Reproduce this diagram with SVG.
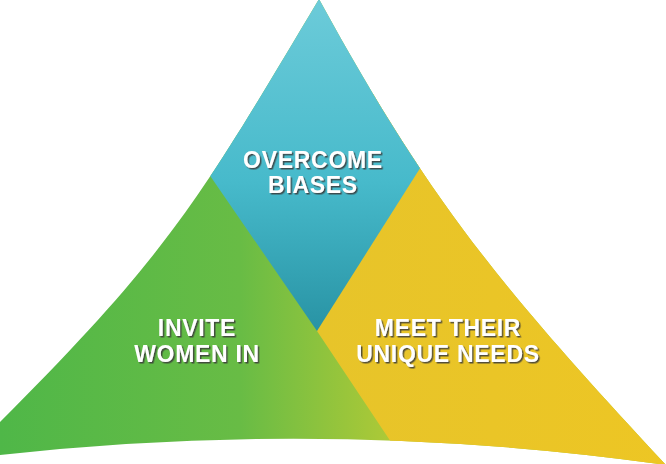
<svg xmlns="http://www.w3.org/2000/svg" width="666" height="464" viewBox="0 0 666 464">
<defs>
<style>
.lbl{font-family:"Liberation Sans",Arial,sans-serif;font-weight:bold;font-size:23px;letter-spacing:0.7px;fill:#ffffff;text-anchor:middle;filter:url(#sh)}
</style>
<filter id="sh" x="-10%" y="-30%" width="120%" height="160%">
<feDropShadow dx="1.5" dy="1.5" stdDeviation="0.6" flood-color="#3a3a3a" flood-opacity="0.85"/>
</filter>
<clipPath id="outer">
<path d="M319,-1 C199,200 170,252 0,422 L0,455 Q333,418 666,465 C498.6,285 429,200 319,-1 Z"/>
</clipPath>
<linearGradient id="gG" x1="0" y1="0" x2="400" y2="0" gradientUnits="userSpaceOnUse">
<stop offset="0" stop-color="#4fb748"/>
<stop offset="0.6" stop-color="#68bc45"/>
<stop offset="1" stop-color="#b2ca36"/>
</linearGradient>
<linearGradient id="gY" x1="320" y1="0" x2="666" y2="0" gradientUnits="userSpaceOnUse">
<stop offset="0" stop-color="#e7c42a"/>
<stop offset="1" stop-color="#edc624"/>
</linearGradient>
<linearGradient id="gB" x1="0" y1="0" x2="0" y2="331" gradientUnits="userSpaceOnUse">
<stop offset="0" stop-color="#6ccbd9"/>
<stop offset="0.55" stop-color="#47bacb"/>
<stop offset="1" stop-color="#2893a4"/>
</linearGradient>
</defs>
<rect width="666" height="464" fill="#ffffff"/>
<g id="shape" clip-path="url(#outer)">
<g id="invite">
<rect x="-10" y="-10" width="690" height="490" fill="url(#gG)"/>
</g>
<g id="meet">
<polygon points="317,331 393,445 400,480 700,480 700,-20 400,-20" fill="url(#gY)"/>
</g>
<g id="overcome">
<polygon points="317,331 158,100 158,-10 480,-10 468,92.5" fill="url(#gB)"/>
</g>
</g>
<g id="labels">
<text class="lbl" x="313" y="168">OVERCOME</text>
<text class="lbl" x="313" y="193">BIASES</text>
<text class="lbl" x="197" y="336">INVITE</text>
<text class="lbl" x="197" y="362">WOMEN IN</text>
<text class="lbl" x="448" y="336">MEET THEIR</text>
<text class="lbl" x="448" y="362">UNIQUE NEEDS</text>
</g>
<g id="connectors"/>
</svg>
